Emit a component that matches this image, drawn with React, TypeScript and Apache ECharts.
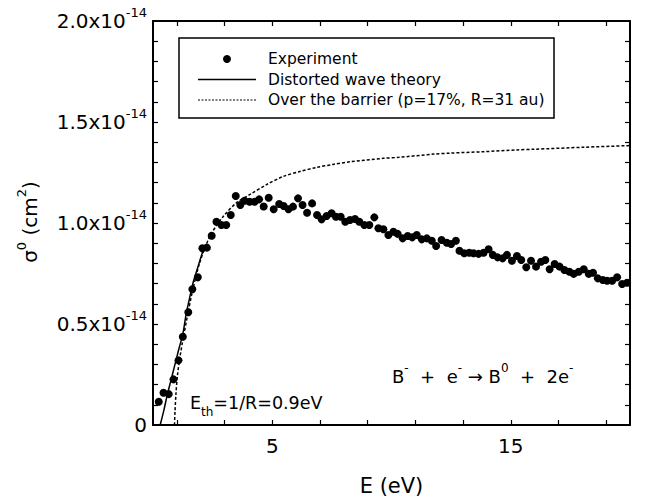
import React, { useEffect, useRef } from "react";
import * as echarts from "echarts";

// Experiment: [E (eV), sigma (1e-14 cm^2)]
const EXPERIMENT: [number, number][] = [
  [0.24, 0.115], [0.44, 0.16], [0.66, 0.153], [0.86, 0.226], [1.07, 0.32],
  [1.25, 0.437], [1.48, 0.558], [1.65, 0.672], [1.88, 0.731], [2.07, 0.875],
  [2.26, 0.878], [2.46, 0.937], [2.66, 1.006], [2.87, 0.99], [3.07, 0.99],
  [3.26, 1.04], [3.47, 1.134], [3.66, 1.089], [3.84, 1.11], [4.05, 1.105],
  [4.26, 1.105], [4.45, 1.117], [4.64, 1.082], [4.85, 1.125], [5.06, 1.068],
  [5.29, 1.094], [5.48, 1.084], [5.68, 1.068], [5.87, 1.081], [6.08, 1.122],
  [6.27, 1.089], [6.46, 1.051], [6.67, 1.097], [6.88, 1.04], [7.07, 1.018],
  [7.28, 1.035], [7.49, 1.048], [7.67, 1.031], [7.87, 1.031], [8.06, 1.006],
  [8.26, 1.015], [8.47, 1.02], [8.65, 1.006], [8.86, 0.99], [9.07, 0.99],
  [9.28, 1.028], [9.45, 0.974], [9.66, 0.969], [9.87, 0.941], [10.08, 0.957],
  [10.26, 0.946], [10.47, 0.924], [10.68, 0.936], [10.87, 0.929], [11.06, 0.941],
  [11.27, 0.919], [11.48, 0.924], [11.69, 0.912], [11.87, 0.886], [12.1, 0.916],
  [12.32, 0.902], [12.5, 0.896], [12.7, 0.912], [12.85, 0.863], [13.05, 0.85],
  [13.26, 0.853], [13.44, 0.85], [13.65, 0.847], [13.86, 0.853], [14.07, 0.87],
  [14.25, 0.842], [14.45, 0.83], [14.66, 0.825], [14.84, 0.842], [15.05, 0.813],
  [15.26, 0.837], [15.44, 0.817], [15.65, 0.781], [15.85, 0.813], [16.06, 0.784],
  [16.27, 0.808], [16.45, 0.817], [16.63, 0.771], [16.84, 0.797], [17.05, 0.784],
  [17.25, 0.767], [17.46, 0.759], [17.64, 0.748], [17.85, 0.759], [18.06, 0.771],
  [18.27, 0.748], [18.45, 0.754], [18.65, 0.726], [18.86, 0.718], [19.04, 0.714],
  [19.25, 0.714], [19.46, 0.731], [19.67, 0.698], [19.88, 0.704],
];

const DISTORTED_WAVE: [number, number][] = [
  [0.3, 0], [0.45, 0.07], [0.6, 0.15], [0.75, 0.22], [0.9, 0.29],
  [1.07, 0.37], [1.25, 0.45], [1.39, 0.55], [1.5, 0.61], [1.67, 0.7],
  [1.85, 0.77], [2.09, 0.86], [2.2, 0.89],
];

const OVER_BARRIER: [number, number][] = [
  [0.9, 0], [0.92, 0.06], [0.96, 0.15], [1.02, 0.24], [1.11, 0.32],
  [1.25, 0.42], [1.46, 0.55], [1.65, 0.66], [1.95, 0.8], [2.37, 0.93],
  [2.93, 1.03], [3.5, 1.1], [4.05, 1.14], [4.76, 1.19], [5.45, 1.23],
  [6.16, 1.255], [6.86, 1.275], [7.55, 1.29], [8.26, 1.303], [9.66, 1.32],
  [10.3, 1.325], [11.76, 1.341], [12.46, 1.346], [13.86, 1.353], [15.26, 1.362],
  [15.96, 1.365], [18.06, 1.375], [19.9, 1.383], [20, 1.384],
];

const X_TICKS = [1, 3, 5, 7, 9, 11, 13, 15, 17, 19];
const X_LABELS = [5, 15];
const Y_TICKS = [0.1, 0.2, 0.3, 0.4, 0.5, 0.6, 0.7, 0.8, 0.9, 1.0, 1.1, 1.2, 1.3, 1.4, 1.5, 1.6, 1.7, 1.8, 1.9];
const Y_LABELS = [0, 0.5, 1.0, 1.5, 2.0];

const LEGEND_NAMES = ["Experiment", "Distorted wave theory", "Over the barrier (p=17%, R=31 au)"];

const FONT = "DejaVu Sans";

export default function App() {
  const ref = useRef<HTMLDivElement>(null);
  useEffect(() => {
    if (!ref.current) return;
    const chart = echarts.init(ref.current, undefined, { renderer: "svg" });
    const axisLine = { show: true, onZero: false, lineStyle: { color: "#000", width: 2 } };
    const tickStyle = { color: "#000", width: 1.2 };
    const option: any = {
      animation: false,
      backgroundColor: "#fff",
      textStyle: { fontFamily: FONT, color: "#000" },
      grid: { left: 153, right: 16, top: 21, bottom: 77, containLabel: false },
      xAxis: [
        {
          type: "value", min: 0, max: 20, position: "bottom",
          axisLine,
          axisTick: { show: true, inside: true, length: 5, customValues: X_TICKS, lineStyle: tickStyle },
          axisLabel: { show: true, customValues: X_LABELS, margin: 11, fontSize: 20, fontFamily: FONT, color: "#000" },
          splitLine: { show: false },
          name: "E (eV)", nameLocation: "middle", nameGap: 50,
          nameTextStyle: { fontSize: 21, fontFamily: FONT, color: "#000" },
        },
        {
          type: "value", min: 0, max: 20, position: "top",
          axisLine,
          axisTick: { show: true, inside: true, length: 5, customValues: X_TICKS, lineStyle: tickStyle },
          axisLabel: { show: false },
          splitLine: { show: false },
        },
      ],
      yAxis: [
        {
          type: "value", min: 0, max: 2, position: "left",
          axisLine,
          axisTick: { show: true, inside: true, length: 5, customValues: Y_TICKS, lineStyle: tickStyle },
          axisLabel: {
            show: true, customValues: Y_LABELS, margin: 6, color: "#000",
            formatter: (v: number) => (Math.abs(v) < 1e-9 ? "{m|0}" : `{m|${v.toFixed(1)}x10}{s|-14}`),
            rich: {
              m: { fontSize: 20, fontFamily: FONT, color: "#000", lineHeight: 20 },
              s: { fontSize: 13, fontFamily: FONT, color: "#000", lineHeight: 13, padding: [0, 0, 17, 0] },
            },
          },
          splitLine: { show: false },
        },
        {
          type: "value", min: 0, max: 2, position: "right",
          axisLine,
          axisTick: { show: true, inside: true, length: 5, customValues: Y_TICKS, lineStyle: tickStyle },
          axisLabel: { show: false },
          splitLine: { show: false },
        },
      ],
      series: [
        {
          name: LEGEND_NAMES[2], type: "line", data: OVER_BARRIER, smooth: 0.3,
          showSymbol: false, symbol: "none",
          lineStyle: { color: "#000", width: 1.5, type: [3, 2] }, z: 2,
        },
        {
          name: LEGEND_NAMES[1], type: "line", data: DISTORTED_WAVE, smooth: 0.3,
          showSymbol: false, symbol: "none",
          lineStyle: { color: "#000", width: 1.5 }, z: 3,
        },
        {
          name: LEGEND_NAMES[0], type: "scatter", data: EXPERIMENT,
          symbol: "circle", symbolSize: 8, itemStyle: { color: "#000", opacity: 1 }, z: 4,
        },
      ],
      graphic: [
        {
          type: "rect", z: 10,
          shape: { x: 179, y: 38, width: 375, height: 80 },
          style: { fill: "#fff", stroke: "#000", lineWidth: 1.5 },
        },
        { type: "circle", z: 11, shape: { cx: 227, cy: 59, r: 4 }, style: { fill: "#000" } },
        { type: "line", z: 11, shape: { x1: 198, y1: 79.5, x2: 256, y2: 79.5 }, style: { stroke: "#000", lineWidth: 1.5 } },
        { type: "line", z: 11, shape: { x1: 198, y1: 100, x2: 256, y2: 100 }, style: { stroke: "#000", lineWidth: 1, lineDash: [2, 1.5] } },
        { type: "text", z: 11, x: 268, y: 59, style: { text: LEGEND_NAMES[0], font: `15.5px "${FONT}"`, fill: "#000", verticalAlign: "middle", align: "left" } },
        { type: "text", z: 11, x: 268, y: 80, style: { text: LEGEND_NAMES[1], font: `15.5px "${FONT}"`, fill: "#000", verticalAlign: "middle", align: "left" } },
        { type: "text", z: 11, x: 268, y: 100, style: { text: LEGEND_NAMES[2], font: `15.5px "${FONT}"`, fill: "#000", verticalAlign: "middle", align: "left" } },
        {
          type: "text", z: 11, x: 30, y: 222, rotation: Math.PI / 2,
          style: {
            text: "{m|σ}{s|0}{m| (cm}{s|2}{m|)}",
            align: "center", verticalAlign: "middle", fill: "#000",
            rich: {
              m: { fontSize: 20, fontFamily: FONT, fill: "#000", lineHeight: 20 },
              s: { fontSize: 13, fontFamily: FONT, fill: "#000", lineHeight: 13, padding: [0, 0, 17, 0] },
            },
          },
        },
        {
          type: "text", z: 11, x: 190, y: 403,
          style: {
            text: "{m|E}{b|th}{m|=1/R=0.9eV}",
            align: "left", verticalAlign: "middle", fill: "#000",
            rich: {
              m: { fontSize: 17.5, fontFamily: FONT, fill: "#000", lineHeight: 18 },
              b: { fontSize: 12, fontFamily: FONT, fill: "#000", lineHeight: 12, padding: [17, 0, 0, 0] },
            },
          },
        },
        {
          type: "text", z: 11, x: 392, y: 376,
          style: {
            text: "{m|B}{s|-}{m|  +  e}{s|-}{m| → B}{s|0}{m|  +  2e}{s|-}",
            align: "left", verticalAlign: "middle", fill: "#000",
            rich: {
              m: { fontSize: 18, fontFamily: FONT, fill: "#000", lineHeight: 18 },
              s: { fontSize: 12, fontFamily: FONT, fill: "#000", lineHeight: 12, padding: [0, 0, 16, 0] },
            },
          },
        },
      ],
    };
    chart.setOption(option);
    return () => chart.dispose();
  }, []);
  return (
    <div
      ref={ref}
      style={{ position: "fixed", left: 0, top: 0, width: 646, height: 502, background: "#fff" }}
    />
  );
}
